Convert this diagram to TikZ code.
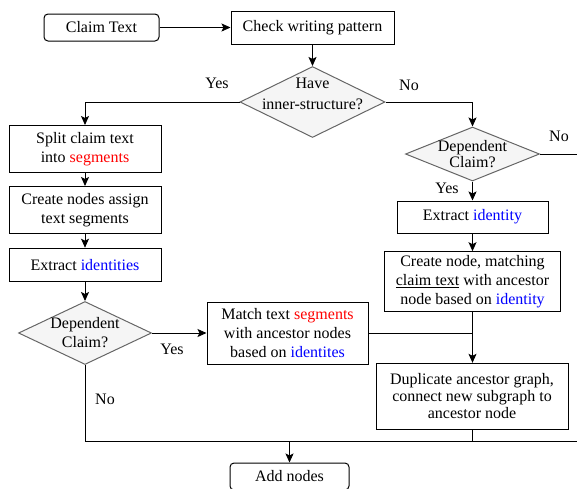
\documentclass[tikz,border=0pt]{standalone}
\usepackage{fontspec}
\setmainfont{Liberation Serif}
\usepackage{xcolor}
\definecolor{segred}{rgb}{1.0, 0.0, 0.0}
\definecolor{idblue}{rgb}{0.0, 0.0, 1.0}
\definecolor{decgray}{HTML}{666666}
\definecolor{decfill}{HTML}{F5F5F5}
\usepackage{tikz}
\usetikzlibrary{shapes.geometric}
\usetikzlibrary{arrows.meta}
\tikzset{>={Stealth[length=9pt,width=8pt,inset=2pt]}}
\tikzset{
  procbox/.style={draw, line width=1pt, align=center, inner sep=0pt},
  termbox/.style={procbox, rounded corners=4pt},
  decision/.style={diamond, draw=decgray, fill=decfill, line width=1pt, inner sep=0pt},
  flow/.style={line width=0.9pt}
}

\begin{document}
\begin{tikzpicture}[x=1pt, y=-1pt, font=\fontsize{16}{19}\selectfont]
\useasboundingbox (0,0) rectangle (577,488);

\node[termbox, minimum width=115pt, minimum height=27pt] (claim) at (101.5,27.5) {Claim Text};
\node[procbox, minimum width=163pt, minimum height=33pt] (check) at (312.5,27.5) {Check writing pattern};
\node[decision, minimum width=145pt, minimum height=71pt,
  label={[align=center, yshift=8pt, font=\fontsize{16}{21}\selectfont]center:{Have\\inner-structure?}}] (have) at (312.5,102) {};

\node[procbox, minimum width=152pt, minimum height=47pt] (split) at (85,149) {Split claim text\\into \textcolor{segred}{segments}};
\node[procbox, minimum width=152pt, minimum height=47pt] (nodes) at (85,210) {Create nodes assign\\text segments};
\node[procbox, minimum width=152pt, minimum height=33pt] (extract) at (85,264.7) {Extract \textcolor{idblue}{identities}};
\node[decision, minimum width=133pt, minimum height=63pt,
  label={[align=center]center:{Dependent\\Claim?}}] (depL) at (85,333) {};
\node[procbox, minimum width=161pt, minimum height=62pt] (match) at (287.5,333) {Match text \textcolor{segred}{segments}\\with ancestor nodes\\based on \textcolor{idblue}{identites}};

\node[decision, minimum width=134pt, minimum height=54pt,
  label={[align=center, font=\fontsize{16}{16}\selectfont]center:{Dependent\\Claim?}}] (depR) at (472.5,154) {};
\node[procbox, minimum width=151pt, minimum height=32pt] (identR) at (472.5,217) {Extract \textcolor{idblue}{identity}};
\node[procbox, minimum width=176pt, minimum height=60pt] (matchR) at (472.5,281.7) {Create node, matching\\\underline{claim text} with ancestor\\node based on \textcolor{idblue}{identity}};
\node[procbox, minimum width=192pt, minimum height=66pt, font=\fontsize{16}{17}\selectfont] (dup) at (472,396.3) {Duplicate ancestor graph,\\connect new subgraph to\\ancestor node};
\node[termbox, minimum width=119pt, minimum height=27pt] (add) at (289.5,476.5) {Add nodes};

% branch labels
\node (yesHave) at (217,83) {Yes};
\node (noHave) at (409,85) {No};
\node (noDepR) at (559,136) {No};
\node (yesDepR) at (447,188) {Yes};
\node (yesDepL) at (172,349) {Yes};
\node (noDepL) at (105,399) {No};

\coordinate (offR) at (580,154);
\coordinate (offB) at (580,441.7);

\draw[flow,->] (claim) -- (check);
\draw[flow,->] (check) -- (have);
\draw[flow,->] (have.west) -| (split.north);
\draw[flow,->] (have.east) -| (depR.north);
\draw[flow] (depR.east) -- (offR);
\draw[flow,->] (depR) -- (identR);
\draw[flow,->] (identR) -- (matchR);
\draw[flow,->] (matchR.south) -- (matchR.south |- dup.north);
\draw[flow] (match.east) -- (match.east -| matchR.south);
\draw[flow,->] (split) -- (nodes);
\draw[flow,->] (nodes) -- (extract);
\draw[flow,->] (extract) -- (depL);
\draw[flow,->] (depL.east) -- (match.west);
\draw[flow] (depL.south) |- (offB);
\draw[flow] (dup.south) -- (dup.south |- offB);
\draw[flow,->] (add.north |- offB) -- (add.north);
\end{tikzpicture}
\end{document}
